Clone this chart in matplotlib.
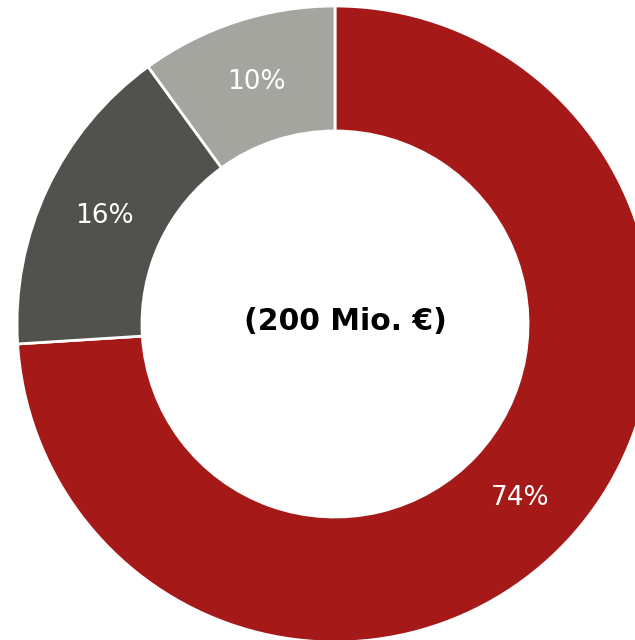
import matplotlib
matplotlib.use("Agg")
import matplotlib.pyplot as plt

# Anteile am Gesamtvolumen
labels = ["A", "B", "C"]
shares = [74, 16, 10]
colors = ["#A61919", "#51514D", "#A5A5A0"]
total_text = "(200 Mio. €)"

fig = plt.figure(figsize=(6.35, 6.4), dpi=100)
ax = fig.add_axes([0, 0, 1, 1])

# Ring in Pixelkoordinaten, rechts und unten angeschnitten
cx, cy, r_out = 335, 316, 318
wedges, _, autotexts = ax.pie(
    shares,
    colors=colors,
    startangle=90,
    counterclock=False,
    center=(cx, cy),
    radius=r_out,
    autopct="%d%%",
    pctdistance=0.80,
    wedgeprops=dict(width=r_out * 0.393, edgecolor="white", linewidth=2),
    textprops=dict(color="white", fontsize=19),
)

ax.text(cx + 10, cy + 2, total_text, ha="center", va="center",
        fontsize=21.5, fontweight="bold", color="black")

ax.set_xlim(0, 635)
ax.set_ylim(0, 640)
ax.set_aspect("equal")
ax.axis("off")

fig.savefig("out.png", dpi=100)
